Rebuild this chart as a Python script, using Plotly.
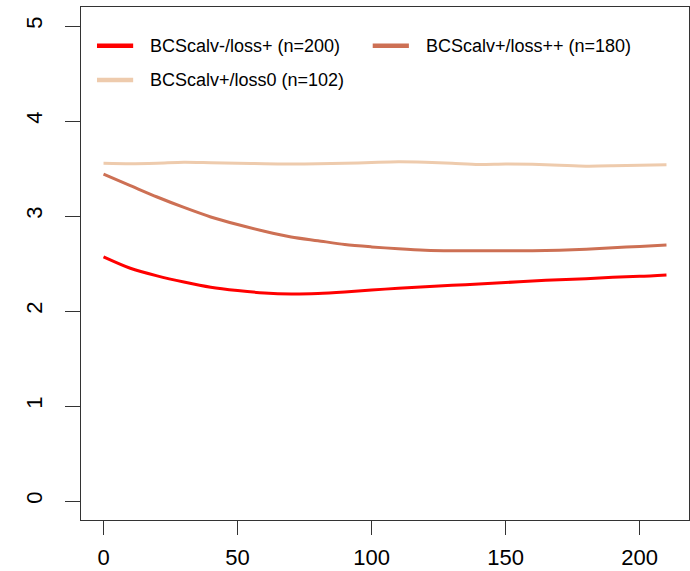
import plotly.graph_objects as go

# Days since calving and smoothed body condition score per group
days = [0, 10, 20, 30, 40, 50, 60, 70, 80, 90, 100, 110, 120, 130, 140,
        150, 160, 170, 180, 190, 200, 210]

bcs_loss_plus = [2.57, 2.45, 2.37, 2.305, 2.25, 2.215, 2.19, 2.18, 2.185, 2.20,
                 2.22, 2.24, 2.255, 2.27, 2.285, 2.30, 2.315, 2.33, 2.34,
                 2.355, 2.365, 2.38]
bcs_loss_plusplus = [3.44, 3.32, 3.20, 3.09, 2.99, 2.91, 2.84, 2.78, 2.74, 2.70,
                     2.675, 2.655, 2.64, 2.635, 2.635, 2.635, 2.635, 2.64,
                     2.65, 2.665, 2.68, 2.695]
bcs_loss_zero = [3.555, 3.55, 3.555, 3.565, 3.56, 3.555, 3.55, 3.547, 3.55,
                 3.555, 3.563, 3.57, 3.565, 3.555, 3.543, 3.548, 3.545, 3.535,
                 3.525, 3.528, 3.535, 3.54]

series_names = ["BCScalv-/loss+ (n=200)", "BCScalv+/loss++ (n=180)",
                "BCScalv+/loss0 (n=102)"]
series_values = [bcs_loss_plus, bcs_loss_plusplus, bcs_loss_zero]
series_colors = ["#FF0000", "#CD7054", "#EECBAD"]

x_ticks = [0, 50, 100, 150, 200]
y_ticks = [0, 1, 2, 3, 4, 5]

FONT = "Liberation Sans, Arial, sans-serif"

fig = go.Figure()
for name, vals, col in zip(series_names, series_values, series_colors):
    fig.add_trace(go.Scatter(
        x=days, y=vals, mode="lines", name=name,
        line=dict(color=col, width=3, shape="spline", smoothing=0.8),
        showlegend=False,
    ))

# Legend drawn inside the box: line samples and labels in paper coordinates
legend_slots = [(0.0263, 0.9246), (0.4798, 0.9246), (0.0263, 0.8577)]
for (lx, ly), name, col in zip(legend_slots, series_names, series_colors):
    fig.add_shape(type="line", xref="paper", yref="paper",
                  x0=lx, x1=lx + 0.0595, y0=ly, y1=ly,
                  line=dict(color=col, width=4.5))
    fig.add_annotation(xref="paper", yref="paper", x=lx + 0.0839, y=ly,
                       text=name, showarrow=False, xanchor="left",
                       yanchor="middle",
                       font=dict(family=FONT, size=18, color="black"))

axis_common = dict(
    showgrid=False, zeroline=False, showline=True, mirror=True,
    linecolor="#333333", linewidth=1, ticks="outside",
    tickcolor="#333333", tickwidth=1, automargin=False,
    tickfont=dict(family=FONT, size=22, color="black"),
)

fig.update_xaxes(range=[-8.4, 218.4], tickvals=x_ticks, ticklen=14,
                 ticklabelstandoff=4, **axis_common)
fig.update_yaxes(range=[-0.2, 5.2], tickvals=y_ticks, ticklen=15,
                 tickangle=-90, ticklabelstandoff=14, **axis_common)

fig.update_layout(
    width=690, height=571,
    margin=dict(l=81, r=1, t=7, b=51),
    plot_bgcolor="white", paper_bgcolor="white",
    showlegend=False,
)

fig.write_html("out.html")
